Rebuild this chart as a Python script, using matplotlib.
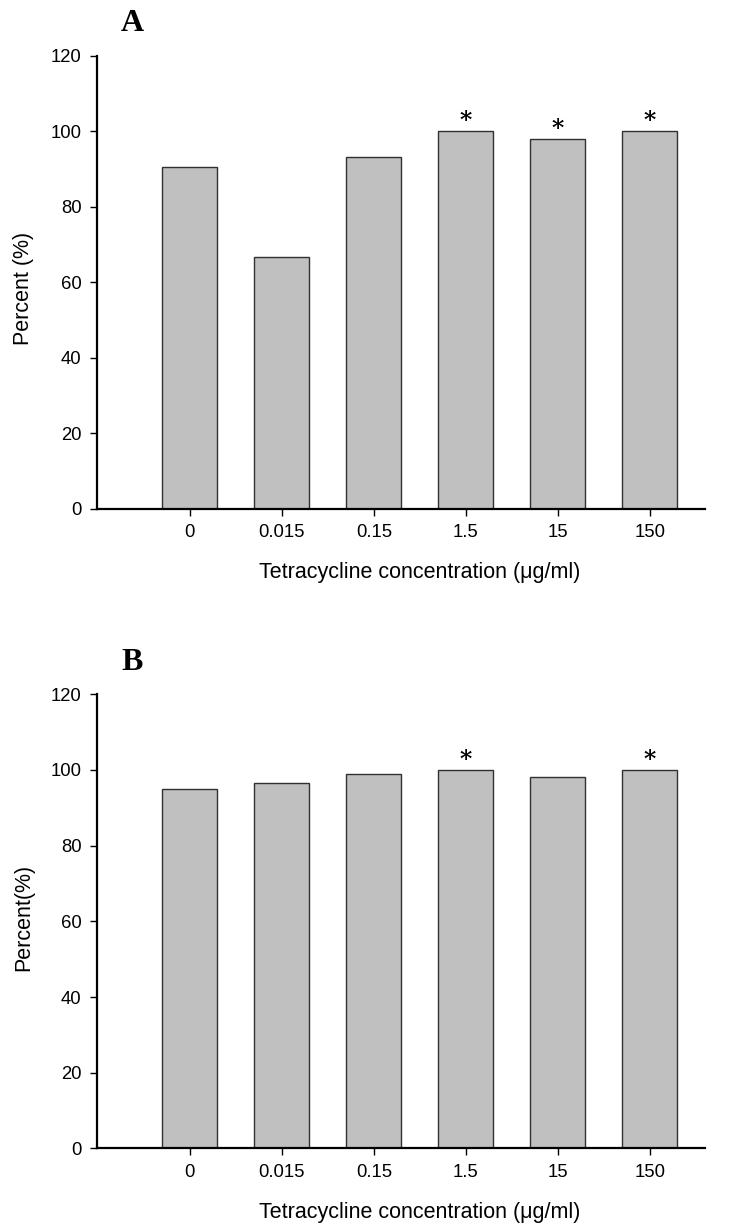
import numpy as np
import matplotlib
matplotlib.use('Agg')
import matplotlib.pyplot as plt
from matplotlib.transforms import blended_transform_factory

plt.rcParams['font.family'] = ['Liberation Sans', 'DejaVu Sans']

concentrations = ['0', '0.015', '0.15', '1.5', '15', '150']
percent_a = [90.6, 66.7, 93.2, 100.0, 98.0, 100.0]
percent_b = [95.1, 96.5, 98.9, 100.0, 98.1, 100.0]
signif_a = [False, False, False, True, True, True]
signif_b = [False, False, False, True, False, True]

fig = plt.figure(figsize=(7.32, 12.24), dpi=100)

# letter, values, significance, ylabel, axes rect, ylabel y (axes frac)
panels = [
    ('A', percent_a, signif_a, 'Percent (%)', [0.1325, 0.5844, 0.8305, 0.3701], 0.487),
    ('B', percent_b, signif_b, 'Percent(%)', [0.1325, 0.0617, 0.8305, 0.3711], 0.509),
]

for letter, vals, sig, ylab, rect, ylab_y in panels:
    ax = fig.add_axes(rect)
    x = np.arange(len(concentrations))
    ax.bar(x, vals, width=0.6, color='#c0c0c0', edgecolor='#303030', linewidth=1.0)
    for xi, v, s in zip(x, vals, sig):
        if s:
            ax.text(xi, v - 0.6, '*', ha='center', va='bottom', fontsize=17,
                    family='DejaVu Serif', fontweight='bold')
    ax.set_xlim(-1.01, 5.6)
    ax.set_ylim(0, 120)
    ax.set_yticks(np.arange(0, 121, 20))
    ax.set_xticks(x)
    ax.set_xticklabels(concentrations)
    ax.spines['top'].set_visible(False)
    ax.spines['right'].set_visible(False)
    ax.spines['left'].set_linewidth(1.6)
    ax.spines['bottom'].set_linewidth(1.6)
    ax.tick_params(axis='both', labelsize=13.3, length=5, width=1, pad=6)
    ax.set_ylabel(ylab, fontsize=15.5)
    ax.yaxis.set_label_coords(-0.104, ylab_y)
    ax.set_xlabel('Tetracycline concentration (\u03bcg/ml)', fontsize=15.5)
    # label centred under the bars, not the whole axis
    ax.xaxis.set_label_coords(2.5, -0.117,
                              transform=blended_transform_factory(ax.transData, ax.transAxes))
    ax.text(0.058, 1.07, letter, transform=ax.transAxes, fontsize=23, fontweight='bold',
            family='Liberation Serif', ha='center', va='center')

fig.savefig('out.png', dpi=100)
